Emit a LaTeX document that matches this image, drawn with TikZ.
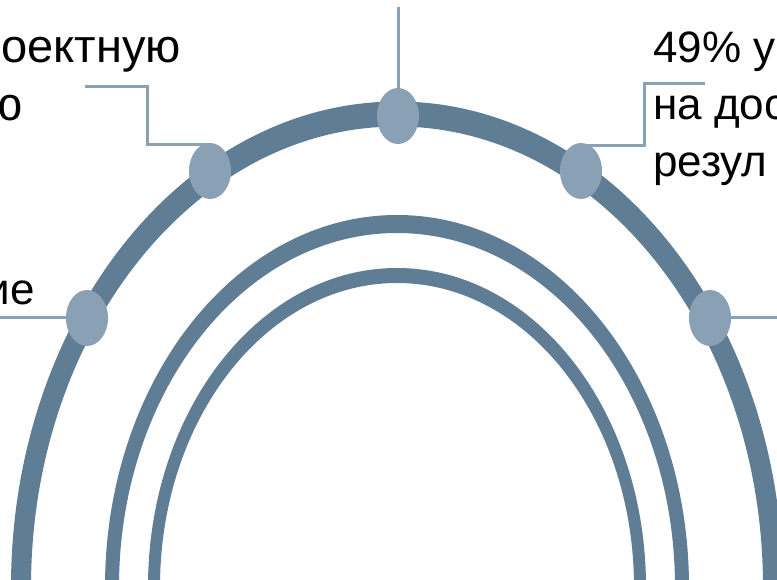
\documentclass[tikz,border=0pt]{standalone}
\usepackage{fontspec}
\setmainfont{Liberation Sans}
\usetikzlibrary{shapes.geometric, positioning, calc}
\pgfdeclarelayer{background}
\pgfsetlayers{background,main}
\definecolor{archblue}{HTML}{5F7D95}
\definecolor{beadblue}{HTML}{8AA0B4}
\tikzset{
    bead/.style={ellipse, fill=beadblue, draw=none, minimum width=42pt, minimum height=56pt, inner sep=0pt},
    conn/.style={draw=beadblue, line width=3pt},
    band/.style={fill=archblue, draw=none},
    lbl/.style={font=\fontsize{44}{57}\selectfont, inner sep=0pt, text=black},
    biglbl/.style={lbl, font=\fontsize{47}{58}\selectfont},
}

\begin{document}
\begin{tikzpicture}[x=1pt, y=-1pt]
    \useasboundingbox (0,0) rectangle (777,580);
    \clip (0,0) rectangle (777,580);

    \node[bead] (n1) at (87,318) {};
    \node[bead] (n2) at (210,171) {};
    \node[bead] (n3) at (398,116) {};
    \node[bead] (n4) at (581,171) {};
    \node[bead] (n5) at (710,318) {};

    \coordinate (c1) at (0,318);
    \coordinate (c2) at (85,87);
    \coordinate (k2) at (147,145);
    \coordinate (c3) at (398,7);
    \coordinate (c4) at (705,84);
    \coordinate (k4) at (644,146);
    \coordinate (c5) at (777,318);

    \begin{pgfonlayer}{background}
      % three arches, outer to inner
      \foreach \ao/\bo/\ai/\bi in {386/485.5/366/460.5, 292/372/278/354, 249/319/237/304}
        \fill[band] (397-\ao,587) arc[start angle=180, end angle=360, x radius=\ao, y radius=\bo]
          -- (397+\ai,587) arc[start angle=360, end angle=180, x radius=\ai, y radius=\bi] -- cycle;

      \draw[conn] (c1) -- (n1);
      \draw[conn] (c2) -| (k2) -- (k2 -| n2);
      \draw[conn] (c3) -- (n3);
      \draw[conn] (c4) -| (k4) -- (k4 -| n4);
      \draw[conn] (n5) -- (c5);
    \end{pgfonlayer}

    \node[biglbl, anchor=base east] (t2a) at (181,63) {оектную};
    \node[biglbl, anchor=base east] (t2b) at (23,121) {ю};
    \node[lbl, anchor=base east] (t1) at (35,305) {ие};
    \node[lbl, anchor=base west] (t4a) at (653,63) {49\% у};
    \node[lbl, anchor=base west] (t4b) at (653,120) {на дос};
    \node[lbl, anchor=base west] (t4c) at (653,177) {резул};
\end{tikzpicture}
\end{document}
